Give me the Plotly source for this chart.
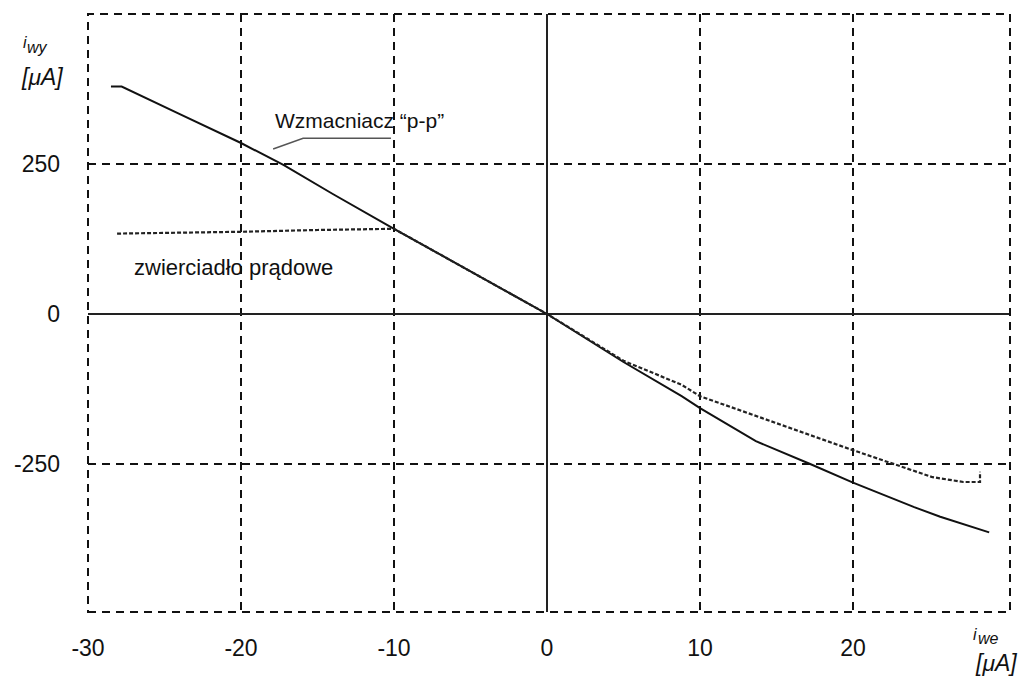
import plotly.graph_objects as go

# Solid curve: "Wzmacniacz p-p"
amp_x = [-28.5, -27.8, -24, -20, -17.2, -14, -10, -5, 0, 5, 8.8, 10, 13.65, 17.2, 20, 24, 25.7, 28.9]
amp_y = [379, 379, 333, 285, 248, 200, 142, 71, 0, -80, -137, -157, -212, -250, -281, -322, -338, -364]

# Dotted curve: "zwierciadło prądowe"
mir_x = [-28.1, -24, -20, -15, -10, -5, 0, 5, 8.8, 10, 15, 20, 25.2, 27.2, 28.3, 28.3]
mir_y = [134, 135, 137, 140, 142, 71, 0, -78, -118, -137, -182, -227, -272, -280, -280, -263]

x_ticks = [-30, -20, -10, 0, 10, 20]
y_ticks = [-250, 0, 250]

FONT = "Liberation Sans, Arial, sans-serif"
GRID_DASH = "8px,6px"

fig = go.Figure()
fig.add_trace(go.Scatter(x=amp_x, y=amp_y, mode="lines",
                         line=dict(color="#111111", width=2), showlegend=False,
                         name="Wzmacniacz “p-p”"))
fig.add_trace(go.Scatter(x=mir_x, y=mir_y, mode="lines",
                         line=dict(color="#222222", width=2.2, dash="4px,2px"), showlegend=False,
                         name="zwierciadło prądowe"))

fig.update_xaxes(range=[-30, 30.26], tickvals=x_ticks, ticktext=[str(v) for v in x_ticks],
                 showgrid=True, gridcolor="#111111", gridwidth=2, griddash=GRID_DASH,
                 zeroline=True, zerolinecolor="#222222", zerolinewidth=1.5,
                 showline=False, ticks="", ticklabelstandoff=20,
                 tickfont=dict(family=FONT, size=23, color="#111111"))
fig.update_yaxes(range=[-496.7, 500], tickvals=y_ticks, ticktext=[str(v) for v in y_ticks],
                 showgrid=True, gridcolor="#111111", gridwidth=2, griddash=GRID_DASH,
                 zeroline=True, zerolinecolor="#222222", zerolinewidth=1.5,
                 showline=False, ticks="", ticklabelstandoff=27,
                 tickfont=dict(family=FONT, size=23, color="#111111"))

# dashed border
fig.add_shape(type="rect", xref="paper", yref="paper", x0=0, y0=0, x1=1, y1=1,
              line=dict(color="#111111", width=2, dash=GRID_DASH), layer="above")

# pointer line for the amplifier label
fig.add_shape(type="path", xref="x", yref="y",
              path="M -17.9 275 L -15.94 293 L -10.2 293",
              line=dict(color="#555555", width=1.5))

ann_font = dict(family=FONT, size=21, color="#111111")
fig.add_annotation(x=-17.9, y=322, xref="x", yref="y", text="Wzmacniacz “p-p”",
                   showarrow=False, xanchor="left", yanchor="middle", font=ann_font)
fig.add_annotation(x=-27.1, y=78, xref="x", yref="y", text="zwierciadło prądowe",
                   showarrow=False, xanchor="left", yanchor="middle", font=dict(family=FONT, size=22, color="#111111"))

lab_font = dict(family=FONT, size=23, color="#111111")
small_font = dict(family=FONT, size=16, color="#111111")
# y-axis unit label
fig.add_annotation(x=-0.073, y=0.952, xref="paper", yref="paper", text="<i>i</i>",
                   showarrow=False, xanchor="left", yanchor="middle", font=small_font)
fig.add_annotation(x=-0.068, y=0.944, xref="paper", yref="paper", text="<i>wy</i>",
                   showarrow=False, xanchor="left", yanchor="middle", font=small_font)
fig.add_annotation(x=-0.075, y=0.895, xref="paper", yref="paper", text="<i>[μA]</i>",
                   showarrow=False, xanchor="left", yanchor="middle", font=lab_font)
# x-axis unit label
fig.add_annotation(x=0.958, y=-0.038, xref="paper", yref="paper", text="<i>i</i>",
                   showarrow=False, xanchor="left", yanchor="middle", font=small_font)
fig.add_annotation(x=0.963, y=-0.045, xref="paper", yref="paper", text="<i>we</i>",
                   showarrow=False, xanchor="left", yanchor="middle", font=small_font)
fig.add_annotation(x=0.960, y=-0.085, xref="paper", yref="paper", text="<i>[μA]</i>",
                   showarrow=False, xanchor="left", yanchor="middle", font=lab_font)

fig.update_layout(width=1027, height=682, margin=dict(l=76, r=25, t=6, b=78),
                  plot_bgcolor="white", paper_bgcolor="white", showlegend=False)

fig.write_html("out.html")
